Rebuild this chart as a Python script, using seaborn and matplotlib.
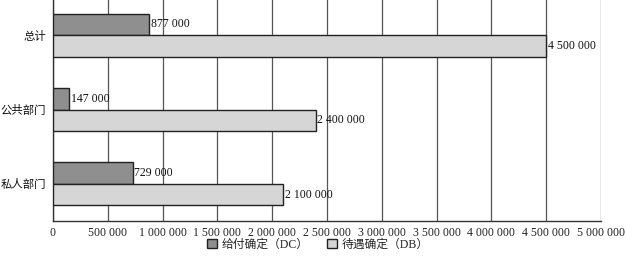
import matplotlib
matplotlib.use("Agg")
import matplotlib.pyplot as plt
import seaborn as sns
import pandas as pd
from matplotlib.ticker import FuncFormatter, FixedLocator

categories = ["总计", "公共部门", "私人部门"]
series_names = ["给付确定（DC）", "待遇确定（DB）"]
dc_values = [877000, 147000, 729000]
db_values = [4500000, 2400000, 2100000]
x_ticks = [0, 500000, 1000000, 1500000, 2000000, 2500000, 3000000, 3500000, 4000000, 4500000, 5000000]

sns.set_theme(style="white")
plt.rcParams["font.family"] = ["Liberation Serif", "Noto Sans CJK SC", "DejaVu Sans"]

rows = []
for c, v in zip(categories, dc_values):
    rows.append({"cat": c, "series": series_names[0], "value": v})
for c, v in zip(categories, db_values):
    rows.append({"cat": c, "series": series_names[1], "value": v})
df = pd.DataFrame(rows)

fig = plt.figure(figsize=(6.26, 2.56), dpi=100)
ax = fig.add_axes([53/626, 1 - 221/256, 548/626, 223/256])

palette = {series_names[0]: "#8f8f8f", series_names[1]: "#d6d6d6"}
sns.barplot(data=df, y="cat", x="value", hue="series", orient="h",
            palette=palette, width=0.58, edgecolor="#222222", linewidth=1.0,
            saturation=1, ax=ax, zorder=3)

fmt = lambda v: f"{int(v):,}".replace(",", " ")
for cont in ax.containers:
    ax.bar_label(cont, labels=[fmt(b.get_width()) for b in cont], padding=1,
                 fontsize=8.5, color="#111111")

ax.set_xlim(0, 5000000)
ax.set_ylim(2.5, -0.5)
ax.xaxis.set_major_locator(FixedLocator(x_ticks))
ax.xaxis.set_major_formatter(FuncFormatter(lambda v, p: fmt(v)))
ax.grid(axis="x", color="#555555", linewidth=0.9, zorder=0)
ax.set_axisbelow(True)
ax.set_xlabel("")
ax.set_ylabel("")
for s in ["top", "right"]:
    ax.spines[s].set_visible(False)
for s in ["left", "bottom"]:
    ax.spines[s].set_color("#333333")
    ax.spines[s].set_linewidth(1.0)
ax.tick_params(axis="x", length=0, labelsize=8.5, pad=4, colors="#222222")
ax.tick_params(axis="y", which="major", length=0, labelsize=8.2, pad=5, colors="#111111")
ax.set_yticks([0.5, 1.5], minor=True)
ax.tick_params(axis="y", which="minor", length=3, direction="in", color="#333333")

ax.legend(loc="center", bbox_to_anchor=(318/626, 1 - 245/256), bbox_transform=fig.transFigure,
          ncol=2, frameon=False, fontsize=8.5, handlelength=0.8, handleheight=0.8,
          handletextpad=0.4, columnspacing=1.6, borderpad=0)

fig.savefig("out.png", dpi=100)
